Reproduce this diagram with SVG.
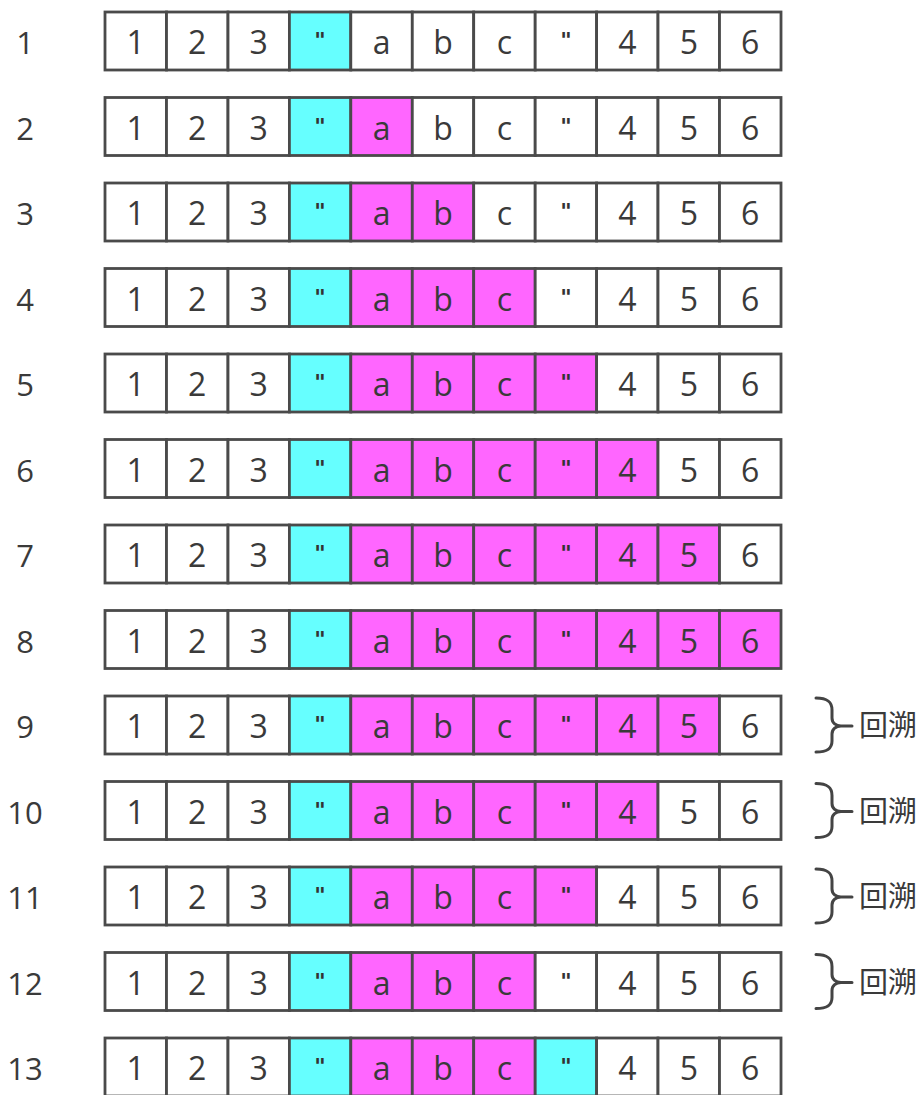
<svg xmlns="http://www.w3.org/2000/svg" width="923" height="1095" viewBox="0 0 923 1095">
<defs>
<style>
.c{fill:#ffffff;stroke:#4a4a4a;stroke-width:2.8}
.y{fill:#66ffff;stroke:#4a4a4a;stroke-width:2.8}
.m{fill:#ff66ff;stroke:#4a4a4a;stroke-width:2.8}
.t{font-family:"Open Sans","DejaVu Sans",sans-serif;font-size:32px;fill:#3a3a3a;text-anchor:middle}
.q{font-family:"DejaVu Sans",sans-serif;font-size:22px;font-weight:bold;fill:#333333;text-anchor:middle}
.l{font-family:"Open Sans","DejaVu Sans",sans-serif;font-size:31px;fill:#3a3a3a;text-anchor:middle}
.b{fill:none;stroke:#444444;stroke-width:3;stroke-linecap:round}
.h{font-family:"Noto Sans CJK SC",sans-serif;font-size:29px;fill:#3a3a3a}
</style>
</defs>

<g id="row1" transform="translate(0,12)">
<rect class="c" x="105" y="0" width="61.5" height="58"/><rect class="c" x="166.5" y="0" width="61.5" height="58"/><rect class="c" x="228" y="0" width="61.4" height="58"/><rect class="y" x="289.4" y="0" width="61.4" height="58"/><rect class="c" x="350.8" y="0" width="61.5" height="58"/><rect class="c" x="412.3" y="0" width="61.4" height="58"/><rect class="c" x="473.7" y="0" width="61.5" height="58"/><rect class="c" x="535.2" y="0" width="61.4" height="58"/><rect class="c" x="596.6" y="0" width="61.4" height="58"/><rect class="c" x="658" y="0" width="61.5" height="58"/><rect class="c" x="719.5" y="0" width="61.5" height="58"/>
<text class="t" x="135.7" y="42">1</text><text class="t" x="197.2" y="42">2</text><text class="t" x="258.7" y="42">3</text><text class="q" x="320.1" y="36">"</text><text class="t" x="381.6" y="42">a</text><text class="t" x="443" y="42">b</text><text class="t" x="504.5" y="42">c</text><text class="q" x="565.9" y="36">"</text><text class="t" x="627.3" y="42">4</text><text class="t" x="688.8" y="42">5</text><text class="t" x="750.2" y="42">6</text>
<text class="l" x="25" y="42">1</text>
</g>

<g id="row2" transform="translate(0,97.5)">
<rect class="c" x="105" y="0" width="61.5" height="58"/><rect class="c" x="166.5" y="0" width="61.5" height="58"/><rect class="c" x="228" y="0" width="61.4" height="58"/><rect class="y" x="289.4" y="0" width="61.4" height="58"/><rect class="m" x="350.8" y="0" width="61.5" height="58"/><rect class="c" x="412.3" y="0" width="61.4" height="58"/><rect class="c" x="473.7" y="0" width="61.5" height="58"/><rect class="c" x="535.2" y="0" width="61.4" height="58"/><rect class="c" x="596.6" y="0" width="61.4" height="58"/><rect class="c" x="658" y="0" width="61.5" height="58"/><rect class="c" x="719.5" y="0" width="61.5" height="58"/>
<text class="t" x="135.7" y="42">1</text><text class="t" x="197.2" y="42">2</text><text class="t" x="258.7" y="42">3</text><text class="q" x="320.1" y="36">"</text><text class="t" x="381.6" y="42">a</text><text class="t" x="443" y="42">b</text><text class="t" x="504.5" y="42">c</text><text class="q" x="565.9" y="36">"</text><text class="t" x="627.3" y="42">4</text><text class="t" x="688.8" y="42">5</text><text class="t" x="750.2" y="42">6</text>
<text class="l" x="25" y="42">2</text>
</g>

<g id="row3" transform="translate(0,183)">
<rect class="c" x="105" y="0" width="61.5" height="58"/><rect class="c" x="166.5" y="0" width="61.5" height="58"/><rect class="c" x="228" y="0" width="61.4" height="58"/><rect class="y" x="289.4" y="0" width="61.4" height="58"/><rect class="m" x="350.8" y="0" width="61.5" height="58"/><rect class="m" x="412.3" y="0" width="61.4" height="58"/><rect class="c" x="473.7" y="0" width="61.5" height="58"/><rect class="c" x="535.2" y="0" width="61.4" height="58"/><rect class="c" x="596.6" y="0" width="61.4" height="58"/><rect class="c" x="658" y="0" width="61.5" height="58"/><rect class="c" x="719.5" y="0" width="61.5" height="58"/>
<text class="t" x="135.7" y="42">1</text><text class="t" x="197.2" y="42">2</text><text class="t" x="258.7" y="42">3</text><text class="q" x="320.1" y="36">"</text><text class="t" x="381.6" y="42">a</text><text class="t" x="443" y="42">b</text><text class="t" x="504.5" y="42">c</text><text class="q" x="565.9" y="36">"</text><text class="t" x="627.3" y="42">4</text><text class="t" x="688.8" y="42">5</text><text class="t" x="750.2" y="42">6</text>
<text class="l" x="25" y="42">3</text>
</g>

<g id="row4" transform="translate(0,268.5)">
<rect class="c" x="105" y="0" width="61.5" height="58"/><rect class="c" x="166.5" y="0" width="61.5" height="58"/><rect class="c" x="228" y="0" width="61.4" height="58"/><rect class="y" x="289.4" y="0" width="61.4" height="58"/><rect class="m" x="350.8" y="0" width="61.5" height="58"/><rect class="m" x="412.3" y="0" width="61.4" height="58"/><rect class="m" x="473.7" y="0" width="61.5" height="58"/><rect class="c" x="535.2" y="0" width="61.4" height="58"/><rect class="c" x="596.6" y="0" width="61.4" height="58"/><rect class="c" x="658" y="0" width="61.5" height="58"/><rect class="c" x="719.5" y="0" width="61.5" height="58"/>
<text class="t" x="135.7" y="42">1</text><text class="t" x="197.2" y="42">2</text><text class="t" x="258.7" y="42">3</text><text class="q" x="320.1" y="36">"</text><text class="t" x="381.6" y="42">a</text><text class="t" x="443" y="42">b</text><text class="t" x="504.5" y="42">c</text><text class="q" x="565.9" y="36">"</text><text class="t" x="627.3" y="42">4</text><text class="t" x="688.8" y="42">5</text><text class="t" x="750.2" y="42">6</text>
<text class="l" x="25" y="42">4</text>
</g>

<g id="row5" transform="translate(0,354)">
<rect class="c" x="105" y="0" width="61.5" height="58"/><rect class="c" x="166.5" y="0" width="61.5" height="58"/><rect class="c" x="228" y="0" width="61.4" height="58"/><rect class="y" x="289.4" y="0" width="61.4" height="58"/><rect class="m" x="350.8" y="0" width="61.5" height="58"/><rect class="m" x="412.3" y="0" width="61.4" height="58"/><rect class="m" x="473.7" y="0" width="61.5" height="58"/><rect class="m" x="535.2" y="0" width="61.4" height="58"/><rect class="c" x="596.6" y="0" width="61.4" height="58"/><rect class="c" x="658" y="0" width="61.5" height="58"/><rect class="c" x="719.5" y="0" width="61.5" height="58"/>
<text class="t" x="135.7" y="42">1</text><text class="t" x="197.2" y="42">2</text><text class="t" x="258.7" y="42">3</text><text class="q" x="320.1" y="36">"</text><text class="t" x="381.6" y="42">a</text><text class="t" x="443" y="42">b</text><text class="t" x="504.5" y="42">c</text><text class="q" x="565.9" y="36">"</text><text class="t" x="627.3" y="42">4</text><text class="t" x="688.8" y="42">5</text><text class="t" x="750.2" y="42">6</text>
<text class="l" x="25" y="42">5</text>
</g>

<g id="row6" transform="translate(0,439.5)">
<rect class="c" x="105" y="0" width="61.5" height="58"/><rect class="c" x="166.5" y="0" width="61.5" height="58"/><rect class="c" x="228" y="0" width="61.4" height="58"/><rect class="y" x="289.4" y="0" width="61.4" height="58"/><rect class="m" x="350.8" y="0" width="61.5" height="58"/><rect class="m" x="412.3" y="0" width="61.4" height="58"/><rect class="m" x="473.7" y="0" width="61.5" height="58"/><rect class="m" x="535.2" y="0" width="61.4" height="58"/><rect class="m" x="596.6" y="0" width="61.4" height="58"/><rect class="c" x="658" y="0" width="61.5" height="58"/><rect class="c" x="719.5" y="0" width="61.5" height="58"/>
<text class="t" x="135.7" y="42">1</text><text class="t" x="197.2" y="42">2</text><text class="t" x="258.7" y="42">3</text><text class="q" x="320.1" y="36">"</text><text class="t" x="381.6" y="42">a</text><text class="t" x="443" y="42">b</text><text class="t" x="504.5" y="42">c</text><text class="q" x="565.9" y="36">"</text><text class="t" x="627.3" y="42">4</text><text class="t" x="688.8" y="42">5</text><text class="t" x="750.2" y="42">6</text>
<text class="l" x="25" y="42">6</text>
</g>

<g id="row7" transform="translate(0,525)">
<rect class="c" x="105" y="0" width="61.5" height="58"/><rect class="c" x="166.5" y="0" width="61.5" height="58"/><rect class="c" x="228" y="0" width="61.4" height="58"/><rect class="y" x="289.4" y="0" width="61.4" height="58"/><rect class="m" x="350.8" y="0" width="61.5" height="58"/><rect class="m" x="412.3" y="0" width="61.4" height="58"/><rect class="m" x="473.7" y="0" width="61.5" height="58"/><rect class="m" x="535.2" y="0" width="61.4" height="58"/><rect class="m" x="596.6" y="0" width="61.4" height="58"/><rect class="m" x="658" y="0" width="61.5" height="58"/><rect class="c" x="719.5" y="0" width="61.5" height="58"/>
<text class="t" x="135.7" y="42">1</text><text class="t" x="197.2" y="42">2</text><text class="t" x="258.7" y="42">3</text><text class="q" x="320.1" y="36">"</text><text class="t" x="381.6" y="42">a</text><text class="t" x="443" y="42">b</text><text class="t" x="504.5" y="42">c</text><text class="q" x="565.9" y="36">"</text><text class="t" x="627.3" y="42">4</text><text class="t" x="688.8" y="42">5</text><text class="t" x="750.2" y="42">6</text>
<text class="l" x="25" y="42">7</text>
</g>

<g id="row8" transform="translate(0,610.5)">
<rect class="c" x="105" y="0" width="61.5" height="58"/><rect class="c" x="166.5" y="0" width="61.5" height="58"/><rect class="c" x="228" y="0" width="61.4" height="58"/><rect class="y" x="289.4" y="0" width="61.4" height="58"/><rect class="m" x="350.8" y="0" width="61.5" height="58"/><rect class="m" x="412.3" y="0" width="61.4" height="58"/><rect class="m" x="473.7" y="0" width="61.5" height="58"/><rect class="m" x="535.2" y="0" width="61.4" height="58"/><rect class="m" x="596.6" y="0" width="61.4" height="58"/><rect class="m" x="658" y="0" width="61.5" height="58"/><rect class="m" x="719.5" y="0" width="61.5" height="58"/>
<text class="t" x="135.7" y="42">1</text><text class="t" x="197.2" y="42">2</text><text class="t" x="258.7" y="42">3</text><text class="q" x="320.1" y="36">"</text><text class="t" x="381.6" y="42">a</text><text class="t" x="443" y="42">b</text><text class="t" x="504.5" y="42">c</text><text class="q" x="565.9" y="36">"</text><text class="t" x="627.3" y="42">4</text><text class="t" x="688.8" y="42">5</text><text class="t" x="750.2" y="42">6</text>
<text class="l" x="25" y="42">8</text>
</g>

<g id="row9" transform="translate(0,696)">
<rect class="c" x="105" y="0" width="61.5" height="58"/><rect class="c" x="166.5" y="0" width="61.5" height="58"/><rect class="c" x="228" y="0" width="61.4" height="58"/><rect class="y" x="289.4" y="0" width="61.4" height="58"/><rect class="m" x="350.8" y="0" width="61.5" height="58"/><rect class="m" x="412.3" y="0" width="61.4" height="58"/><rect class="m" x="473.7" y="0" width="61.5" height="58"/><rect class="m" x="535.2" y="0" width="61.4" height="58"/><rect class="m" x="596.6" y="0" width="61.4" height="58"/><rect class="m" x="658" y="0" width="61.5" height="58"/><rect class="c" x="719.5" y="0" width="61.5" height="58"/>
<text class="t" x="135.7" y="42">1</text><text class="t" x="197.2" y="42">2</text><text class="t" x="258.7" y="42">3</text><text class="q" x="320.1" y="36">"</text><text class="t" x="381.6" y="42">a</text><text class="t" x="443" y="42">b</text><text class="t" x="504.5" y="42">c</text><text class="q" x="565.9" y="36">"</text><text class="t" x="627.3" y="42">4</text><text class="t" x="688.8" y="42">5</text><text class="t" x="750.2" y="42">6</text>
<text class="l" x="25" y="42">9</text>
<path class="b" d="M816,2 C828,2 832,6 832,14 V22 C832,27 836,30 841,30 H852 M841,30 C836,30 832,33 832,38 V45 C832,52 828,56 816,56"/>
<text class="h" x="859" y="40">回溯</text>
</g>

<g id="row10" transform="translate(0,781.5)">
<rect class="c" x="105" y="0" width="61.5" height="58"/><rect class="c" x="166.5" y="0" width="61.5" height="58"/><rect class="c" x="228" y="0" width="61.4" height="58"/><rect class="y" x="289.4" y="0" width="61.4" height="58"/><rect class="m" x="350.8" y="0" width="61.5" height="58"/><rect class="m" x="412.3" y="0" width="61.4" height="58"/><rect class="m" x="473.7" y="0" width="61.5" height="58"/><rect class="m" x="535.2" y="0" width="61.4" height="58"/><rect class="m" x="596.6" y="0" width="61.4" height="58"/><rect class="c" x="658" y="0" width="61.5" height="58"/><rect class="c" x="719.5" y="0" width="61.5" height="58"/>
<text class="t" x="135.7" y="42">1</text><text class="t" x="197.2" y="42">2</text><text class="t" x="258.7" y="42">3</text><text class="q" x="320.1" y="36">"</text><text class="t" x="381.6" y="42">a</text><text class="t" x="443" y="42">b</text><text class="t" x="504.5" y="42">c</text><text class="q" x="565.9" y="36">"</text><text class="t" x="627.3" y="42">4</text><text class="t" x="688.8" y="42">5</text><text class="t" x="750.2" y="42">6</text>
<text class="l" x="25" y="42">10</text>
<path class="b" d="M816,2 C828,2 832,6 832,14 V22 C832,27 836,30 841,30 H852 M841,30 C836,30 832,33 832,38 V45 C832,52 828,56 816,56"/>
<text class="h" x="859" y="40">回溯</text>
</g>

<g id="row11" transform="translate(0,867)">
<rect class="c" x="105" y="0" width="61.5" height="58"/><rect class="c" x="166.5" y="0" width="61.5" height="58"/><rect class="c" x="228" y="0" width="61.4" height="58"/><rect class="y" x="289.4" y="0" width="61.4" height="58"/><rect class="m" x="350.8" y="0" width="61.5" height="58"/><rect class="m" x="412.3" y="0" width="61.4" height="58"/><rect class="m" x="473.7" y="0" width="61.5" height="58"/><rect class="m" x="535.2" y="0" width="61.4" height="58"/><rect class="c" x="596.6" y="0" width="61.4" height="58"/><rect class="c" x="658" y="0" width="61.5" height="58"/><rect class="c" x="719.5" y="0" width="61.5" height="58"/>
<text class="t" x="135.7" y="42">1</text><text class="t" x="197.2" y="42">2</text><text class="t" x="258.7" y="42">3</text><text class="q" x="320.1" y="36">"</text><text class="t" x="381.6" y="42">a</text><text class="t" x="443" y="42">b</text><text class="t" x="504.5" y="42">c</text><text class="q" x="565.9" y="36">"</text><text class="t" x="627.3" y="42">4</text><text class="t" x="688.8" y="42">5</text><text class="t" x="750.2" y="42">6</text>
<text class="l" x="25" y="42">11</text>
<path class="b" d="M816,2 C828,2 832,6 832,14 V22 C832,27 836,30 841,30 H852 M841,30 C836,30 832,33 832,38 V45 C832,52 828,56 816,56"/>
<text class="h" x="859" y="40">回溯</text>
</g>

<g id="row12" transform="translate(0,952.5)">
<rect class="c" x="105" y="0" width="61.5" height="58"/><rect class="c" x="166.5" y="0" width="61.5" height="58"/><rect class="c" x="228" y="0" width="61.4" height="58"/><rect class="y" x="289.4" y="0" width="61.4" height="58"/><rect class="m" x="350.8" y="0" width="61.5" height="58"/><rect class="m" x="412.3" y="0" width="61.4" height="58"/><rect class="m" x="473.7" y="0" width="61.5" height="58"/><rect class="c" x="535.2" y="0" width="61.4" height="58"/><rect class="c" x="596.6" y="0" width="61.4" height="58"/><rect class="c" x="658" y="0" width="61.5" height="58"/><rect class="c" x="719.5" y="0" width="61.5" height="58"/>
<text class="t" x="135.7" y="42">1</text><text class="t" x="197.2" y="42">2</text><text class="t" x="258.7" y="42">3</text><text class="q" x="320.1" y="36">"</text><text class="t" x="381.6" y="42">a</text><text class="t" x="443" y="42">b</text><text class="t" x="504.5" y="42">c</text><text class="q" x="565.9" y="36">"</text><text class="t" x="627.3" y="42">4</text><text class="t" x="688.8" y="42">5</text><text class="t" x="750.2" y="42">6</text>
<text class="l" x="25" y="42">12</text>
<path class="b" d="M816,2 C828,2 832,6 832,14 V22 C832,27 836,30 841,30 H852 M841,30 C836,30 832,33 832,38 V45 C832,52 828,56 816,56"/>
<text class="h" x="859" y="40">回溯</text>
</g>

<g id="row13" transform="translate(0,1038)">
<rect class="c" x="105" y="0" width="61.5" height="58"/><rect class="c" x="166.5" y="0" width="61.5" height="58"/><rect class="c" x="228" y="0" width="61.4" height="58"/><rect class="y" x="289.4" y="0" width="61.4" height="58"/><rect class="m" x="350.8" y="0" width="61.5" height="58"/><rect class="m" x="412.3" y="0" width="61.4" height="58"/><rect class="m" x="473.7" y="0" width="61.5" height="58"/><rect class="y" x="535.2" y="0" width="61.4" height="58"/><rect class="c" x="596.6" y="0" width="61.4" height="58"/><rect class="c" x="658" y="0" width="61.5" height="58"/><rect class="c" x="719.5" y="0" width="61.5" height="58"/>
<text class="t" x="135.7" y="42">1</text><text class="t" x="197.2" y="42">2</text><text class="t" x="258.7" y="42">3</text><text class="q" x="320.1" y="36">"</text><text class="t" x="381.6" y="42">a</text><text class="t" x="443" y="42">b</text><text class="t" x="504.5" y="42">c</text><text class="q" x="565.9" y="36">"</text><text class="t" x="627.3" y="42">4</text><text class="t" x="688.8" y="42">5</text><text class="t" x="750.2" y="42">6</text>
<text class="l" x="25" y="42">13</text>
</g>
</svg>
